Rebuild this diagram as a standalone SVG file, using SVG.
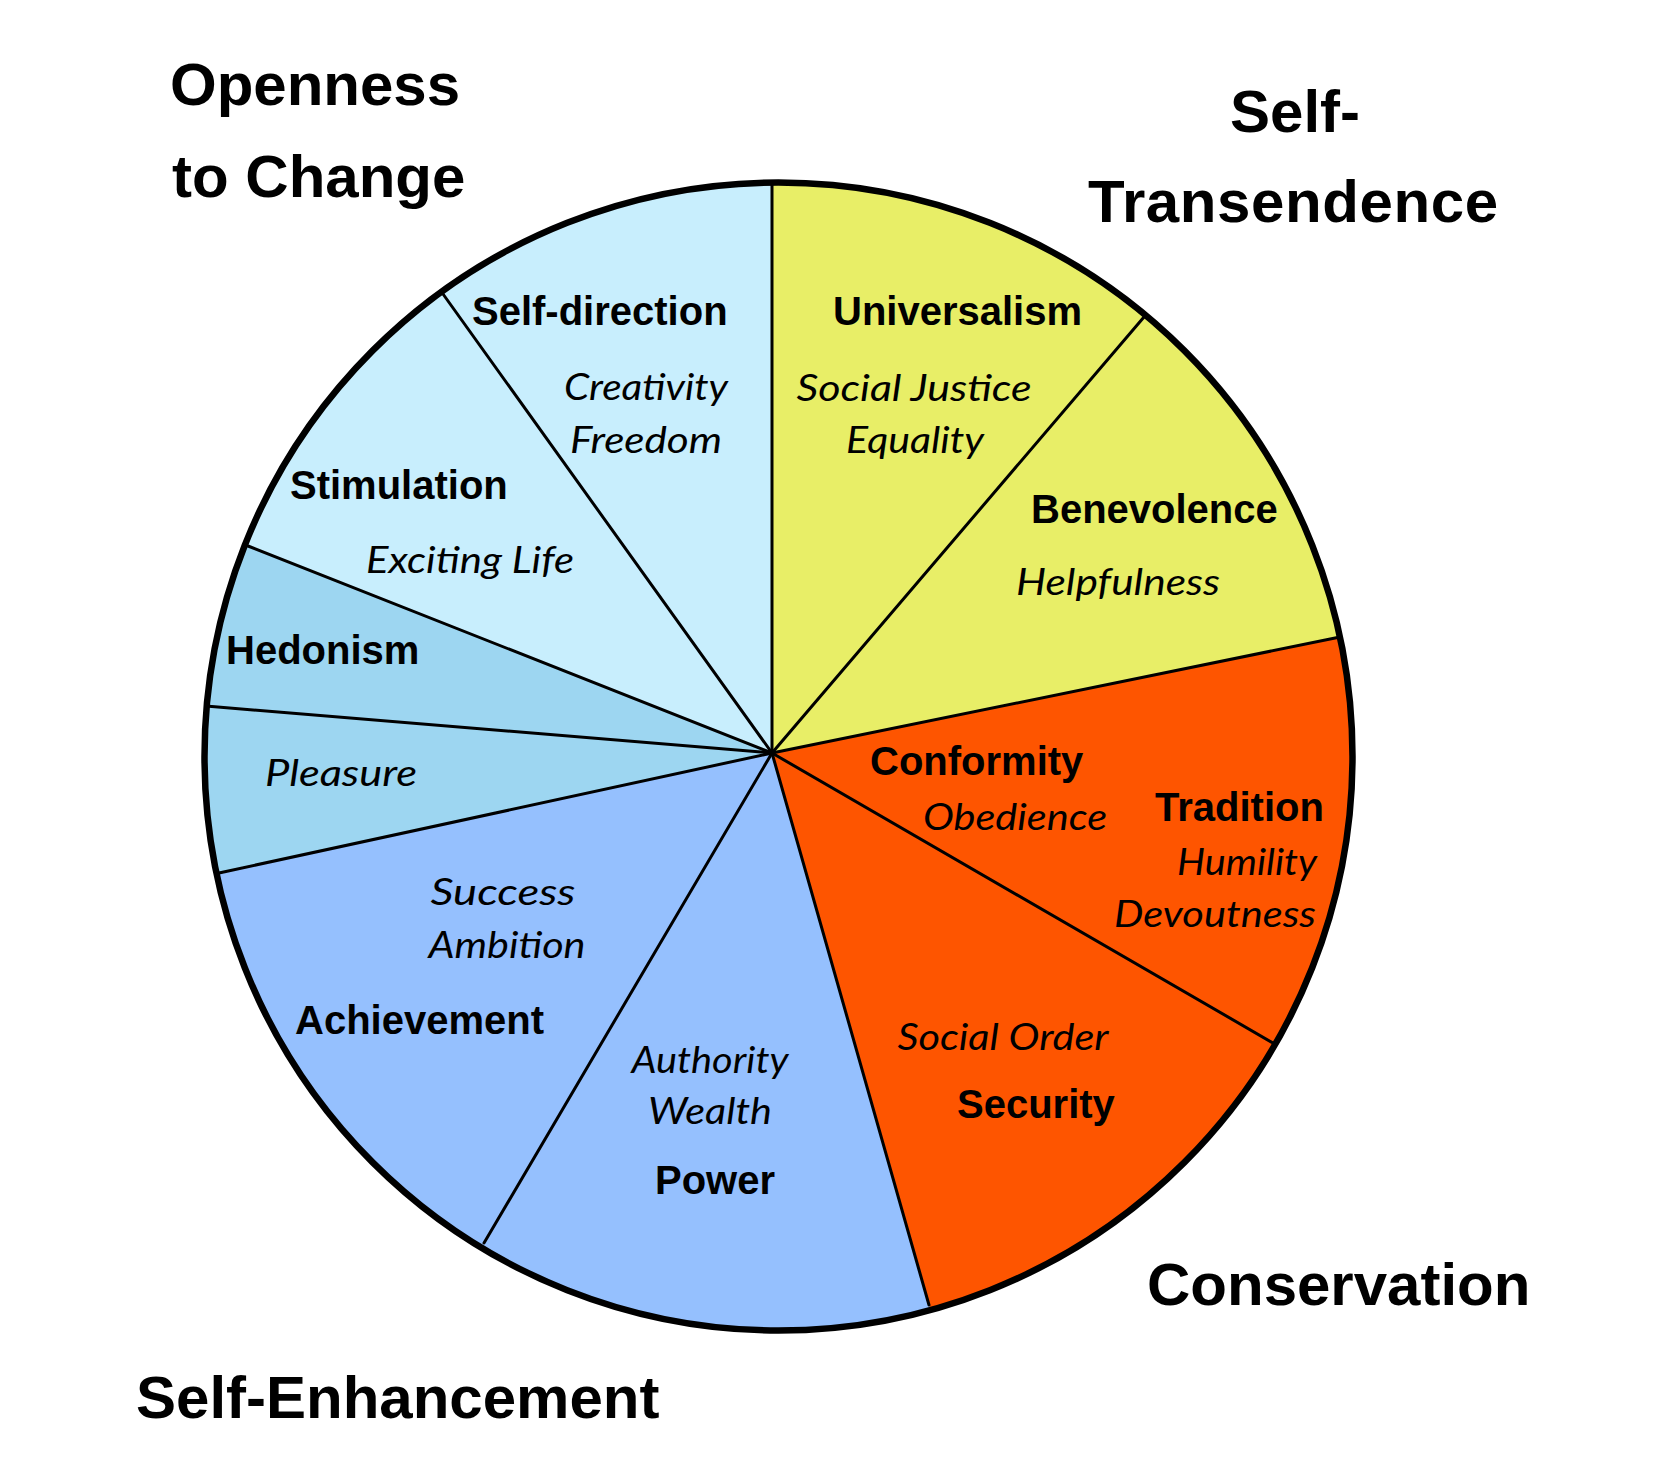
<svg xmlns="http://www.w3.org/2000/svg" width="1674" height="1476" viewBox="0 0 1674 1476">
  <style>
    .title { font-family: "Liberation Sans", Arial, sans-serif; font-weight: bold; font-size: 60px; fill: #000; }
    .lbl { font-family: "Liberation Sans", Arial, sans-serif; font-weight: bold; font-size: 40px; fill: #000; }
    .sub { font-family: Lato, "Open Sans", sans-serif; font-style: italic; font-size: 36px; fill: #000; }
    .mid { text-anchor: middle; }
    .end { text-anchor: end; }
    .spoke { stroke: #000; stroke-width: 3; stroke-linecap: round; fill: none; }
    .c-light { fill: #c8eefd; }
    .c-med { fill: #9dd6f1; }
    .c-blue { fill: #95c0fe; }
    .c-yel { fill: #e8ee67; }
    .c-org { fill: #fe5500; }
  </style>
  <defs>
    <clipPath id="disc">
      <circle cx="778.5" cy="756.5" r="574"/>
    </clipPath>
  </defs>
  <rect width="1674" height="1476" fill="#fff"/>

  <g id="wedges" clip-path="url(#disc)">
    <g id="self-direction"><polygon class="c-light" points="772,753 114,-165 772,-387"/></g>
    <g id="universalism"><polygon class="c-yel" points="772,753 772,-387 1516,-119"/></g>
    <g id="benevolence"><polygon class="c-yel" points="772,753 1516,-119 1908,521"/></g>
    <g id="conformity-tradition"><polygon class="c-org" points="772,753 1908,521 1774,1333"/></g>
    <g id="security"><polygon class="c-org" points="772,753 1774,1333 1086,1857"/></g>
    <g id="power"><polygon class="c-blue" points="772,753 1086,1857 196,1733"/></g>
    <g id="achievement"><polygon class="c-blue" points="772,753 196,1733 -334,993"/></g>
    <g id="pleasure"><polygon class="c-med" points="772,753 -334,993 -360,659"/></g>
    <g id="hedonism"><polygon class="c-med" points="772,753 -360,659 -276,339"/></g>
    <g id="stimulation"><polygon class="c-light" points="772,753 -276,339 114,-165"/></g>
  </g>

  <g id="connectors">
    <line class="spoke" x1="772" y1="753" x2="772" y2="183"/>
    <line class="spoke" x1="772" y1="753" x2="1144" y2="317"/>
    <line class="spoke" x1="772" y1="753" x2="1340" y2="637"/>
    <line class="spoke" x1="772" y1="753" x2="1273" y2="1043"/>
    <line class="spoke" x1="772" y1="753" x2="929" y2="1305"/>
    <line class="spoke" x1="772" y1="753" x2="484" y2="1243"/>
    <line class="spoke" x1="772" y1="753" x2="219" y2="873"/>
    <line class="spoke" x1="772" y1="753" x2="206" y2="706"/>
    <line class="spoke" x1="772" y1="753" x2="248" y2="546"/>
    <line class="spoke" x1="772" y1="753" x2="443" y2="294"/>
  </g>

  <circle id="rim" cx="778.5" cy="756.5" r="574" fill="none" stroke="#000" stroke-width="6.5"/>

  <g id="labels">
    <g id="label-self-direction">
      <text class="lbl" x="472" y="325">Self-direction</text>
      <text class="sub mid" x="646" y="400" textLength="164" lengthAdjust="spacingAndGlyphs">Creativity</text>
      <text class="sub mid" x="646" y="453" textLength="152" lengthAdjust="spacingAndGlyphs">Freedom</text>
    </g>
    <g id="label-universalism">
      <text class="lbl" x="833" y="325">Universalism</text>
      <text class="sub mid" x="914" y="401" textLength="235" lengthAdjust="spacingAndGlyphs">Social Justice</text>
      <text class="sub mid" x="915" y="453" textLength="138" lengthAdjust="spacingAndGlyphs">Equality</text>
    </g>
    <g id="label-stimulation">
      <text class="lbl" x="290" y="499">Stimulation</text>
      <text class="sub mid" x="470" y="573" textLength="208" lengthAdjust="spacingAndGlyphs">Exciting Life</text>
    </g>
    <g id="label-benevolence">
      <text class="lbl" x="1031" y="523">Benevolence</text>
      <text class="sub mid" x="1118" y="595" textLength="204" lengthAdjust="spacingAndGlyphs">Helpfulness</text>
    </g>
    <g id="label-hedonism">
      <text class="lbl" x="226" y="664">Hedonism</text>
      <text class="sub mid" x="341" y="786" textLength="152" lengthAdjust="spacingAndGlyphs">Pleasure</text>
    </g>
    <g id="label-conformity">
      <text class="lbl" x="870" y="775">Conformity</text>
      <text class="sub mid" x="1015" y="830" textLength="184" lengthAdjust="spacingAndGlyphs">Obedience</text>
    </g>
    <g id="label-tradition">
      <text class="lbl" x="1155" y="821">Tradition</text>
      <text class="sub end" x="1317" y="875" textLength="140" lengthAdjust="spacingAndGlyphs">Humility</text>
      <text class="sub end" x="1316" y="927" textLength="202" lengthAdjust="spacingAndGlyphs">Devoutness</text>
    </g>
    <g id="label-achievement">
      <text class="sub mid" x="503" y="905" textLength="145" lengthAdjust="spacingAndGlyphs">Success</text>
      <text class="sub mid" x="507" y="958" textLength="157" lengthAdjust="spacingAndGlyphs">Ambition</text>
      <text class="lbl" x="295" y="1034">Achievement</text>
    </g>
    <g id="label-power">
      <text class="sub mid" x="710" y="1073" textLength="157" lengthAdjust="spacingAndGlyphs">Authority</text>
      <text class="sub mid" x="710" y="1124" textLength="124" lengthAdjust="spacingAndGlyphs">Wealth</text>
      <text class="lbl" x="655" y="1194">Power</text>
    </g>
    <g id="label-security">
      <text class="sub mid" x="1003" y="1050" textLength="211" lengthAdjust="spacingAndGlyphs">Social Order</text>
      <text class="lbl" x="957" y="1118">Security</text>
    </g>
  </g>

  <g id="titles">
    <g id="title-openness">
      <text class="title" x="170" y="105">Openness</text>
      <text class="title" x="172" y="197">to Change</text>
    </g>
    <g id="title-self-transendence">
      <text class="title" x="1230" y="132">Self-</text>
      <text class="title" x="1088" y="222" textLength="410">Transendence</text>
    </g>
    <g id="title-conservation">
      <text class="title" x="1147" y="1305">Conservation</text>
    </g>
    <g id="title-self-enhancement">
      <text class="title" x="136" y="1418">Self-Enhancement</text>
    </g>
  </g>
</svg>
